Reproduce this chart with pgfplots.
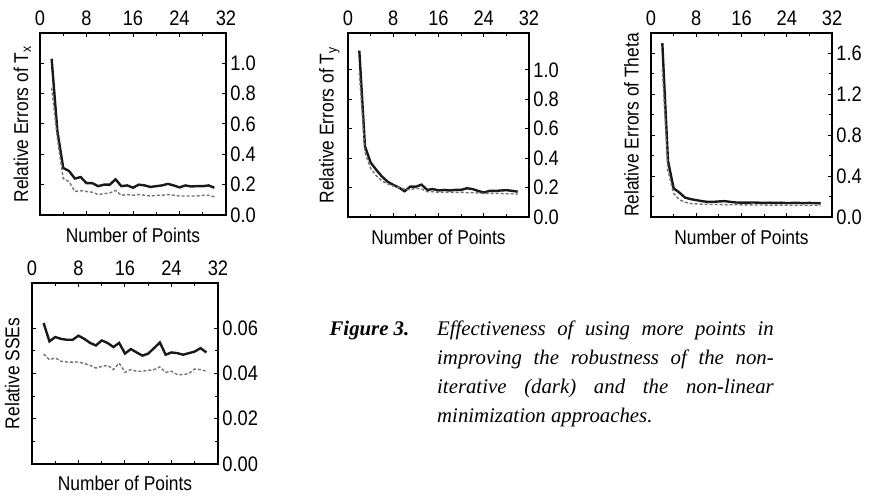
\documentclass[border=0pt]{standalone}
\usepackage{fontspec}
\setmainfont{Liberation Sans}[FakeStretch=0.87]
\newfontfamily\capfont{Liberation Serif}
\usepackage{pgfplots}
\pgfplotsset{compat=1.18}

\pgfplotsset{
  panel/.style={
    scale only axis, anchor=south west,
    xmin=0, xmax=32, ymin=0,
    xtick={0,8,16,24,32}, minor x tick num=1,
    xticklabel pos=upper, yticklabel pos=upper,
    xtick pos=both, ytick pos=both,
    scaled y ticks=false,
    tick align=inside, major tick length=2pt, minor tick length=1.5pt,
    axis line style={line width=0.8pt},
    every tick/.style={black, line width=0.5pt},
    /pgf/number format/assume math mode=true,
    tick label style={font=\fontsize{10.5}{11}\selectfont},
    label style={font=\fontsize{10}{12}\selectfont},
    xlabel={Number of Points},
    xlabel style={at={(axis description cs:0.5,-0.03)}, anchor=north},
    ylabel style={at={(axis description cs:-0.065,0.5)}, anchor=south, inner sep=0pt},
    yticklabel style={inner xsep=2pt, /pgf/number format/fixed,
      /pgf/number format/fixed zerofill, /pgf/number format/precision=1},
  },
  dark/.style={black!90, line width=1.2pt},
  light/.style={black!55, line width=0.7pt, dash pattern=on 1.5pt off 1pt},
}

\begin{document}
\begin{tikzpicture}
\path[use as bounding box] (0,0) rectangle (436.5pt,248pt);

% Tx
\begin{axis}[panel, at={(20pt,140.5pt)}, width=93pt, height=91pt,
  ymax=1.2, ytick={0,0.2,0.4,0.6,0.8,1.0},
  ylabel style={at={(axis description cs:-0.045,0.5)}},
  ylabel={Relative Errors of T\textsubscript{x}}]
\addplot[dark] coordinates {
  (2,1.03)(3,0.55)(4,0.31)(5,0.29)(6,0.24)(7,0.25)(8,0.21)(9,0.21)(10,0.19)
  (11,0.20)(12,0.20)(13,0.235)(14,0.19)(15,0.195)(16,0.18)(17,0.20)(18,0.195)
  (19,0.185)(20,0.19)(21,0.195)(22,0.205)(23,0.195)(24,0.182)(25,0.195)
  (26,0.188)(27,0.19)(28,0.19)(29,0.195)(30,0.18)};
\addplot[light] coordinates {
  (2,0.84)(3,0.50)(4,0.24)(5,0.22)(6,0.155)(7,0.16)(8,0.155)(9,0.15)(10,0.135)
  (11,0.14)(12,0.145)(13,0.162)(14,0.13)(15,0.135)(16,0.13)(17,0.135)(18,0.13)
  (19,0.125)(20,0.13)(21,0.13)(22,0.135)(23,0.13)(24,0.125)(25,0.125)
  (26,0.125)(27,0.125)(28,0.13)(29,0.13)(30,0.12)};
\end{axis}

% Ty
\begin{axis}[panel, at={(174pt,139.5pt)}, width=90.5pt, height=92pt,
  ymax=1.25, ytick={0,0.2,0.4,0.6,0.8,1.0},
  ylabel style={at={(axis description cs:-0.045,0.5)}},
  ylabel={Relative Errors of T\textsubscript{y}}]
\addplot[dark] coordinates {
  (2,1.13)(3,0.48)(4,0.37)(5,0.32)(6,0.275)(7,0.24)(8,0.218)(9,0.20)(10,0.175)
  (11,0.206)(12,0.206)(13,0.22)(14,0.184)(15,0.19)(16,0.18)(17,0.184)(18,0.18)
  (19,0.184)(20,0.184)(21,0.195)(22,0.19)(23,0.177)(24,0.166)(25,0.177)
  (26,0.177)(27,0.18)(28,0.182)(29,0.178)(30,0.172)};
\addplot[light] coordinates {
  (2,0.98)(3,0.44)(4,0.33)(5,0.28)(6,0.245)(7,0.225)(8,0.21)(9,0.20)(10,0.19)
  (11,0.185)(12,0.195)(13,0.19)(14,0.172)(15,0.172)(16,0.168)(17,0.17)(18,0.168)
  (19,0.167)(20,0.168)(21,0.166)(22,0.165)(23,0.163)(24,0.16)(25,0.16)
  (26,0.16)(27,0.16)(28,0.158)(29,0.158)(30,0.155)};
\end{axis}

% Theta
\begin{axis}[panel, at={(325.5pt,139.5pt)}, width=90.5pt, height=92pt,
  ymax=1.8, ytick={0,0.4,0.8,1.2,1.6}, minor y tick num=1,
  ylabel={Relative Errors of Theta}]
\addplot[dark] coordinates {
  (2,1.70)(3,0.55)(4,0.28)(5,0.24)(6,0.19)(7,0.175)(8,0.165)(9,0.155)(10,0.148)
  (11,0.148)(12,0.152)(13,0.155)(14,0.148)(15,0.142)(16,0.14)(17,0.14)(18,0.142)
  (19,0.14)(20,0.138)(21,0.14)(22,0.138)(23,0.14)(24,0.136)(25,0.138)
  (26,0.138)(27,0.136)(28,0.138)(29,0.136)(30,0.133)};
\addplot[light] coordinates {
  (2,1.45)(3,0.45)(4,0.23)(5,0.17)(6,0.145)(7,0.132)(8,0.128)(9,0.125)(10,0.123)
  (11,0.122)(12,0.122)(13,0.12)(14,0.12)(15,0.12)(16,0.118)(17,0.118)(18,0.118)
  (19,0.117)(20,0.117)(21,0.116)(22,0.116)(23,0.116)(24,0.115)(25,0.115)
  (26,0.115)(27,0.114)(28,0.114)(29,0.114)(30,0.113)};
\end{axis}

% SSEs
\begin{axis}[panel, at={(16pt,16pt)}, width=93pt, height=90.5pt,
  ymax=0.08, ytick={0,0.02,0.04,0.06}, minor y tick num=1,
  yticklabel style={/pgf/number format/precision=2},
  ylabel={Relative SSEs}]
\addplot[dark] coordinates {
  (2,0.0623)(3,0.0542)(4,0.0561)(5,0.0553)(6,0.0549)(7,0.0549)(8,0.0567)
  (9,0.0553)(10,0.0535)(11,0.0524)(12,0.0546)(13,0.0535)(14,0.0517)(15,0.0535)
  (16,0.0488)(17,0.0508)(18,0.0493)(19,0.0479)(20,0.0488)(21,0.0512)(22,0.0537)
  (23,0.0483)(24,0.0493)(25,0.049)(26,0.0483)(27,0.049)(28,0.0497)(29,0.0512)
  (30,0.0493)};
\addplot[light] coordinates {
  (2,0.0486)(3,0.0461)(4,0.0469)(5,0.0454)(6,0.0451)(7,0.045)(8,0.0451)
  (9,0.0444)(10,0.0436)(11,0.0424)(12,0.0431)(13,0.0436)(14,0.0417)(15,0.0446)
  (16,0.0405)(17,0.0417)(18,0.041)(19,0.041)(20,0.0414)(21,0.0417)(22,0.0429)
  (23,0.0405)(24,0.041)(25,0.0395)(26,0.0395)(27,0.04)(28,0.042)(29,0.0417)
  (30,0.041)};
\end{axis}

% caption
\begingroup
\capfont\fontsize{10.4}{14.5}\selectfont
\node[anchor=base west, inner sep=0] at (164.6pt,80pt) {\textbf{\textit{Figure 3.}}};
\node[anchor=base west, inner sep=0] at (218.4pt,80pt)
  {\makebox[168.3pt][s]{\itshape Effectiveness of using more points in}};
\node[anchor=base west, inner sep=0] at (218.4pt,65.5pt)
  {\makebox[168.3pt][s]{\itshape improving the robustness of the non-}};
\node[anchor=base west, inner sep=0] at (218.4pt,51pt)
  {\makebox[168.3pt][s]{\itshape iterative (dark) and the non-linear}};
\node[anchor=base west, inner sep=0] at (218.4pt,36.5pt)
  {\itshape minimization approaches.};
\endgroup
\end{tikzpicture}
\end{document}
